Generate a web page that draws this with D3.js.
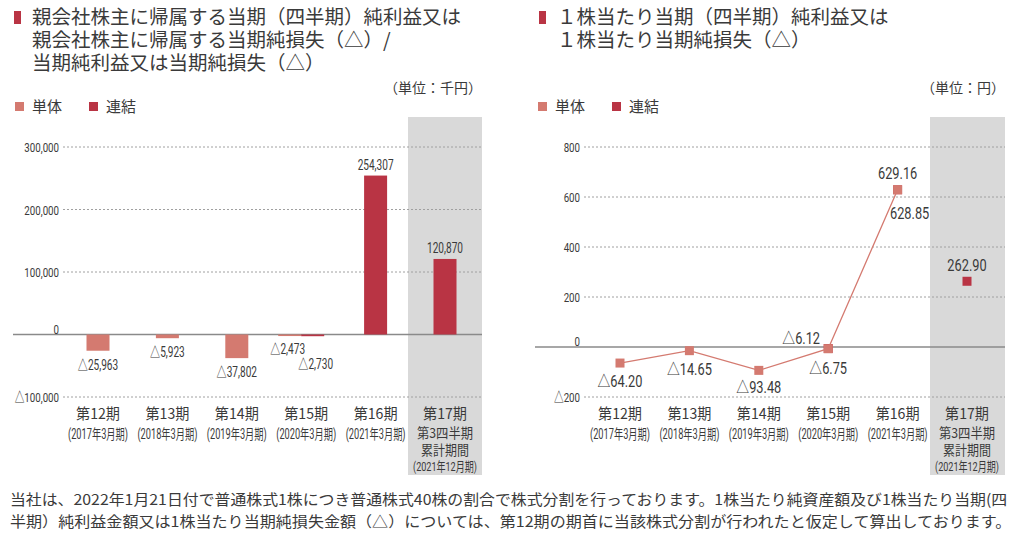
<!DOCTYPE html>
<html>
<head>
<meta charset="utf-8">
<script src="https://cdn.jsdelivr.net/npm/d3@7"></script>
<style>
  body { margin: 0; background: #fff; }
  svg text { font-family: "Noto Sans CJK JP", sans-serif; fill: #3a3a3a; }
  .num { font-family: Roboto, "Noto Sans CJK JP", sans-serif; }
</style>
</head>
<body>
<svg width="1024" height="540"></svg>
<script>
// periods shared by both charts
var periods = ["第12期", "第13期", "第14期", "第15期", "第16期", "第17期"];
var periodSub = ["(2017年3月期)", "(2018年3月期)", "(2019年3月期)", "(2020年3月期)", "(2021年3月期)"];
var lastSub = ["第3四半期", "累計期間", "(2021年12月期)"];

// net income (thousand yen)
var incomeSingle = [-25963, -5923, -37802, -2473, null, null];
var incomeConsol = [null, null, null, -2730, 254307, 120870];
var incomeTicks = [-100000, 0, 100000, 200000, 300000];

// per share (yen)
var epsSingle = [-64.20, -14.65, -93.48, -6.75, 629.16, null];
var epsConsol = [null, null, null, -6.12, 628.85, 262.90];
var epsTicks = [-200, 0, 200, 400, 600, 800];

var lightRed = "#d47a70", darkRed = "#b93444";

var svg = d3.select("svg");

function fmt(v, dec) {
  var s = dec ? Math.abs(v).toFixed(dec) : d3.format(",")(Math.abs(v));
  return (v < 0 ? "△" : "") + s;
}

// narrow numbers: squeeze the text horizontally around its anchor
function numText(g, x, y, t, size, sx, anchor, fill) {
  return g.append("text").attr("class", "num")
    .attr("transform", "translate(" + x + "," + y + ") scale(" + sx + ",1)")
    .attr("text-anchor", anchor || "middle").attr("font-size", size)
    .attr("fill", fill || "#444").text(t);
}

// scale a text horizontally so it spans a given width
function fitText(g, x, y, t, size, width, cls, anchor) {
  var el = g.append("text").attr("class", cls || null)
    .attr("text-anchor", anchor || "middle").attr("font-size", size).text(t);
  var len = el.node().getComputedTextLength();
  el.attr("transform", "translate(" + x + "," + y + ") scale(" + (width / len) + ",1)");
  return el;
}

// ---- shared frame: title, legend, unit, band, grid, x labels
function frame(o) {
  var g = svg.append("g");

  g.append("rect").attr("x", o.titleX - 18).attr("y", 11).attr("width", 7).attr("height", 13)
    .attr("fill", darkRed);
  o.title.forEach(function(t, i) {
    g.append("text").attr("x", o.titleX).attr("y", 24 + i * 23)
      .attr("font-size", 19.5).text(t);
  });

  g.append("text").attr("x", o.x1).attr("y", 93).attr("text-anchor", "end")
    .attr("font-size", 14).text(o.unit);

  [["単体", lightRed], ["連結", darkRed]].forEach(function(l, i) {
    var lx = o.legendX + i * 74;
    g.append("rect").attr("x", lx).attr("y", 102).attr("width", 9).attr("height", 9).attr("fill", l[1]);
    g.append("text").attr("x", lx + 17).attr("y", 112).attr("font-size", 15).text(l[0]);
  });

  // grey band behind the last period
  g.append("rect").attr("x", o.x(periods[5]) - 37).attr("y", 117)
    .attr("width", o.x1 - o.x(periods[5]) + 37).attr("height", 358).attr("fill", "#d9d9d9");

  o.ticks.forEach(function(t) {
    var yy = o.y(t);
    if (t === 0) {
      g.append("line").attr("x1", o.zeroX0).attr("x2", o.x1).attr("y1", yy).attr("y2", yy)
        .attr("stroke", "#8a8a8a").attr("stroke-width", 1.5);
    } else {
      g.append("line").attr("x1", o.gridX0).attr("x2", o.x1).attr("y1", yy).attr("y2", yy)
        .attr("stroke", "#a0a0a0").attr("stroke-width", 1).attr("stroke-dasharray", "2,2");
    }
    numText(g, o.gridX0 - 4, yy + (t === 0 ? -1 : 5), fmt(t), 13.5, 0.72, "end", "#555");
  });

  periods.forEach(function(p, i) {
    var cx = o.x(p);
    fitText(g, cx, 419, p, 15, 44);
    if (i < 5) {
      fitText(g, cx, 439, periodSub[i], 14, 60, "num").attr("fill", "#555");
    } else {
      fitText(g, cx, 438, lastSub[0], 13.5, 56);
      fitText(g, cx, 455, lastSub[1], 13.5, 48);
      fitText(g, cx, 471, lastSub[2], 13, 64, "num").attr("fill", "#555");
    }
  });
  return g;
}

// ---- left: bar chart
var xL = d3.scalePoint().domain(periods).range([98, 445]);
var yL = d3.scaleLinear().domain([-100000, 300000]).range([397, 147]);
var gL = frame({
  title: ["親会社株主に帰属する当期（四半期）純利益又は", "親会社株主に帰属する当期純損失（△）/", "当期純利益又は当期純損失（△）"],
  titleX: 32, unit: "（単位：千円）", legendX: 15, x: xL, y: yL, x1: 482, gridX0: 63, zeroX0: 13, ticks: incomeTicks
});

var barW = 23;
function barX(i, kind) {
  var cx = xL(periods[i]);
  // period 15 carries both bars side by side
  if (incomeSingle[i] != null && incomeConsol[i] != null) return kind === "s" ? cx - barW - 5 : cx - 5;
  return cx - barW / 2;
}
[["s", incomeSingle, lightRed], ["c", incomeConsol, darkRed]].forEach(function(s) {
  s[1].forEach(function(v, i) {
    if (v == null) return;
    gL.append("rect").attr("x", barX(i, s[0])).attr("width", barW)
      .attr("y", yL(Math.max(0, v))).attr("height", Math.abs(yL(v) - yL(0)))
      .attr("fill", s[2]);
    var lx = barX(i, s[0]) + barW / 2, ly = v < 0 ? yL(v) + 19 : yL(v) - 6;
    if (i === 3 && s[0] === "s") { lx -= 2; ly = yL(0) + 19; }
    if (i === 3 && s[0] === "c") { lx += 3; ly = yL(0) + 34; }
    numText(gL, lx, ly, fmt(v), 14, 0.72);
  });
});

// ---- right: line chart
var xR = d3.scalePoint().domain(periods).range([620, 967]);
var yR = d3.scaleLinear().domain([-200, 800]).range([397, 147]);
var gR = frame({
  title: ["１株当たり当期（四半期）純利益又は", "１株当たり当期純損失（△）"],
  titleX: 557, unit: "（単位：円）", legendX: 538, x: xR, y: yR, x1: 1005, gridX0: 584, zeroX0: 535, ticks: epsTicks
});

var ms = 9;
epsConsol.forEach(function(v, i) {
  if (v == null) return;
  gR.append("rect").attr("x", xR(periods[i]) - ms / 2).attr("y", yR(v) - ms / 2)
    .attr("width", ms).attr("height", ms).attr("fill", darkRed);
});
var single = epsSingle.map(function(v, i) { return {p: periods[i], v: v}; }).filter(function(d) { return d.v != null; });
gR.append("path").datum(single)
  .attr("d", d3.line().x(function(d) { return xR(d.p); }).y(function(d) { return yR(d.v); }))
  .attr("fill", "none").attr("stroke", lightRed).attr("stroke-width", 1.3);
single.forEach(function(d) {
  gR.append("rect").attr("x", xR(d.p) - ms / 2).attr("y", yR(d.v) - ms / 2)
    .attr("width", ms).attr("height", ms).attr("fill", lightRed);
});

// label offsets [dx, dy] per point
var singleOff = [[0, 24], [0, 24], [0, 23], [0, 25], [0, -11]];
var consolOff = {3: [-27, -5], 4: [12, 29], 5: [0, -10]};
single.forEach(function(d, i) {
  numText(gR, xR(d.p) + singleOff[i][0], yR(d.v) + singleOff[i][1], fmt(d.v, 2), 16, 0.8);
});
epsConsol.forEach(function(v, i) {
  if (v == null) return;
  numText(gR, xR(periods[i]) + consolOff[i][0], yR(v) + consolOff[i][1], fmt(v, 2), 16, 0.8);
});

// ---- footnote
var notes = [
  "当社は、2022年1月21日付で普通株式1株につき普通株式40株の割合で株式分割を行っております。1株当たり純資産額及び1株当たり当期(四",
  "半期）純利益金額又は1株当たり当期純損失金額（△）については、第12期の期首に当該株式分割が行われたと仮定して算出しております。"
];
notes.forEach(function(t, i) {
  fitText(svg, 10, 505 + i * 22, t, 15, i ? 1002 : 998, null, "start").attr("fill", "#333");
});
</script>
</body>
</html>
